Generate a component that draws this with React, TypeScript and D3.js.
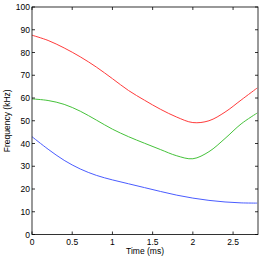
import React, { useRef, useEffect } from 'react';
import * as d3 from 'd3';

const times = [0, 0.2, 0.4, 0.6, 0.8, 1.0, 1.2, 1.4, 1.6, 1.8, 2.0, 2.2, 2.4, 2.6, 2.8];
const redSeries = [87.6, 85.3, 82.0, 78.1, 73.6, 68.5, 63.3, 59.0, 55.0, 51.6, 49.2, 50.0, 53.8, 59.1, 64.4];
const greenSeries = [59.6, 58.9, 57.2, 54.2, 50.3, 46.3, 43.0, 40.1, 37.3, 34.6, 33.3, 36.4, 42.2, 48.6, 53.4];
const blueSeries = [43.0, 37.5, 32.6, 28.8, 26.0, 24.0, 22.3, 20.6, 18.9, 17.3, 16.0, 15.0, 14.3, 13.9, 13.8];
const xTicks = [0, 0.5, 1, 1.5, 2, 2.5];
const yTicks = [0, 10, 20, 30, 40, 50, 60, 70, 80, 90, 100];

const series = [
  { values: redSeries, color: '#ff3b3b' },
  { values: greenSeries, color: '#45c23a' },
  { values: blueSeries, color: '#4a5cff' },
];

const App: React.FC = () => {
  const svgRef = useRef<SVGSVGElement>(null);
  const width = 261;
  const height = 258;

  useEffect(() => {
    if (!svgRef.current) return;
    const svg = d3.select(svgRef.current);
    svg.selectAll('*').remove();

    const margin = { top: 7, right: 3, bottom: 23.5, left: 32 };
    const plotW = width - margin.left - margin.right;
    const plotH = height - margin.top - margin.bottom;
    const font = 'Liberation Sans, Arial, sans-serif';

    const x = d3.scaleLinear().domain([0, 2.81]).range([0, plotW]);
    const y = d3.scaleLinear().domain([0, 100]).range([plotH, 0]);

    const g = svg.append('g').attr('transform', `translate(${margin.left},${margin.top})`);

    // lines
    const line = d3.line<number>()
      .x((_, i) => x(times[i]))
      .y(d => y(d))
      .curve(d3.curveCatmullRom.alpha(0.5));

    series.forEach(s => {
      g.append('path')
        .datum(s.values)
        .attr('d', line)
        .attr('fill', 'none')
        .attr('stroke', s.color)
        .attr('stroke-width', 1);
    });

    // inward ticks (all four sides)
    const tickLen = 3;
    xTicks.forEach(t => {
      g.append('line').attr('x1', x(t)).attr('x2', x(t)).attr('y1', plotH).attr('y2', plotH - tickLen)
        .attr('stroke', '#000').attr('stroke-width', 0.8);
      g.append('line').attr('x1', x(t)).attr('x2', x(t)).attr('y1', 0).attr('y2', tickLen)
        .attr('stroke', '#000').attr('stroke-width', 0.8);
      g.append('text').attr('x', x(t)).attr('y', plotH + 10)
        .attr('text-anchor', 'middle').style('font-family', font).style('font-size', '8.5px')
        .text(String(t));
    });
    yTicks.forEach(v => {
      g.append('line').attr('x1', 0).attr('x2', tickLen).attr('y1', y(v)).attr('y2', y(v))
        .attr('stroke', '#000').attr('stroke-width', 0.8);
      g.append('line').attr('x1', plotW).attr('x2', plotW - tickLen).attr('y1', y(v)).attr('y2', y(v))
        .attr('stroke', '#000').attr('stroke-width', 0.8);
      g.append('text').attr('x', -2).attr('y', y(v) + 3)
        .attr('text-anchor', 'end').style('font-family', font).style('font-size', '8.5px')
        .text(String(v));
    });

    // box
    g.append('rect').attr('x', 0).attr('y', 0).attr('width', plotW).attr('height', plotH)
      .attr('fill', 'none').attr('stroke', '#000').attr('stroke-width', 0.8);

    // axis labels
    svg.append('text')
      .attr('x', margin.left + plotW / 2).attr('y', height - 4)
      .attr('text-anchor', 'middle').style('font-family', font).style('font-size', '8.5px')
      .text('Time (ms)');
    svg.append('text')
      .attr('transform', `translate(10,${margin.top + plotH / 2}) rotate(-90)`)
      .attr('text-anchor', 'middle').style('font-family', font).style('font-size', '8.5px')
      .text('Frequency (kHz)');
  }, []);

  return (
    <svg ref={svgRef} width={width} height={height}
      style={{ position: 'absolute', left: 0, top: 0, background: '#fff' }} />
  );
};

export default App;
